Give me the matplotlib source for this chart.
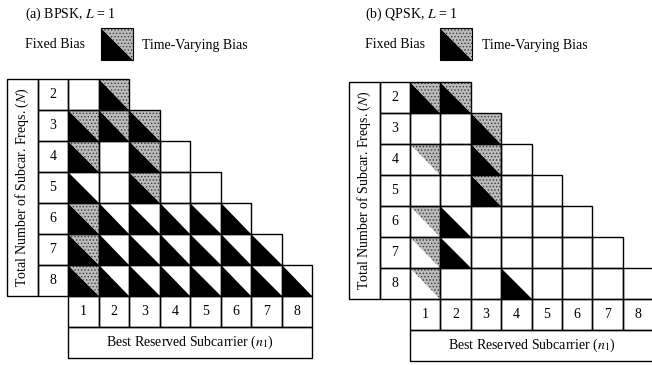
import matplotlib.pyplot as plt
from matplotlib.patches import Polygon, Rectangle

plt.rcParams['font.family'] = ['Liberation Serif', 'DejaVu Serif']
plt.rcParams['mathtext.fontset'] = 'stix'
plt.rcParams['hatch.linewidth'] = 0.6

# rows: total number of subcarrier freqs N, columns: best reserved subcarrier n1
N_values = [2, 3, 4, 5, 6, 7, 8]
n1_values = [1, 2, 3, 4, 5, 6, 7, 8]

# (N, n1) cells where each bias type shows up
bpsk_fixed = [(2, 2), (3, 1), (3, 2), (3, 3), (4, 1), (4, 3), (5, 1), (5, 3),
              (6, 1), (6, 2), (6, 3), (6, 4), (6, 5), (6, 6),
              (7, 1), (7, 2), (7, 3), (7, 4), (7, 5), (7, 6), (7, 7),
              (8, 1), (8, 2), (8, 3), (8, 4), (8, 5), (8, 6), (8, 7), (8, 8)]
bpsk_varying = [(2, 2), (3, 1), (3, 2), (3, 3), (4, 1), (4, 3), (5, 3),
                (6, 1), (7, 1), (8, 1)]

qpsk_fixed = [(2, 1), (2, 2), (3, 3), (4, 3), (5, 3), (6, 2), (7, 2), (8, 4)]
qpsk_varying = [(2, 1), (2, 2), (3, 3), (4, 1), (4, 3), (5, 3),
                (6, 1), (7, 1), (8, 1)]

panels = [
    dict(title='(a) BPSK, $L$ = 1', fixed=bpsk_fixed, varying=bpsk_varying,
         x0=68, y0=79, cw=30.5, ch=31, tx=25, sq=101, tv=142),
    dict(title='(b) QPSK, $L$ = 1', fixed=qpsk_fixed, varying=qpsk_varying,
         x0=410, y0=82, cw=30.4, ch=31, tx=365, sq=440, tv=482),
]

BLACK = 'black'
GREY = '#bcbcbc'
FS = 10

fig = plt.figure(figsize=(6.52, 3.65), dpi=100)
ax = fig.add_axes([0, 0, 1, 1])
ax.set_xlim(0, 652)
ax.set_ylim(365, 0)
ax.axis('off')


def box(x, y, w, h, lw=1.0):
    ax.add_patch(Rectangle((x, y), w, h, facecolor='none', edgecolor='black', lw=lw, zorder=3))


def triangles(x, y, w, h, fixed, varying):
    # lower-left half = fixed bias, upper-right half = time-varying bias (dotted grey)
    if fixed:
        ax.add_patch(Polygon([(x, y), (x, y + h), (x + w, y + h)], closed=True,
                             facecolor=BLACK, lw=0, zorder=2))
    if varying:
        ax.add_patch(Polygon([(x, y), (x + w, y), (x + w, y + h)], closed=True,
                             facecolor=GREY, edgecolor='#3a3a3a', hatch='.....',
                             lw=0, zorder=2))


for p in panels:
    x0, y0, cw, ch = p['x0'], p['y0'], p['cw'], p['ch']

    ax.text(p['tx'], 14, p['title'], fontsize=FS, va='center', ha='left')
    ax.text(p['tx'], 45, 'Fixed Bias', fontsize=FS, va='center', ha='left')
    triangles(p['sq'], 28, 32, 32, True, True)
    box(p['sq'], 28, 32, 32, lw=0.8)
    ax.text(p['tv'], 45, 'Time-Varying Bias', fontsize=FS, va='center', ha='left')

    for i, N in enumerate(N_values):
        y = y0 + i * ch
        box(x0 - cw, y, cw, ch)
        ax.text(x0 - cw / 2, y + ch / 2, str(N), fontsize=FS, ha='center', va='center')
        for n1 in n1_values[:N]:
            x = x0 + (n1 - 1) * cw
            triangles(x, y, cw, ch, (N, n1) in p['fixed'], (N, n1) in p['varying'])
            box(x, y, cw, ch)

    rows_h = len(N_values) * ch
    box(x0 - 2 * cw, y0, cw, rows_h)
    ax.text(x0 - 1.5 * cw, y0 + rows_h / 2, 'Total Number of Subcar. Freqs. ($N$)',
            fontsize=FS, rotation=90, ha='center', va='center')

    yc = y0 + rows_h
    for n1 in n1_values:
        x = x0 + (n1 - 1) * cw
        box(x, yc, cw, ch)
        ax.text(x + cw / 2, yc + ch / 2, str(n1), fontsize=FS, ha='center', va='center')

    box(x0, yc + ch, len(n1_values) * cw, ch)
    ax.text(x0 + len(n1_values) * cw / 2, yc + 1.5 * ch,
            'Best Reserved Subcarrier ($n_1$)', fontsize=FS, ha='center', va='center')

fig.savefig('out.png', dpi=100)
